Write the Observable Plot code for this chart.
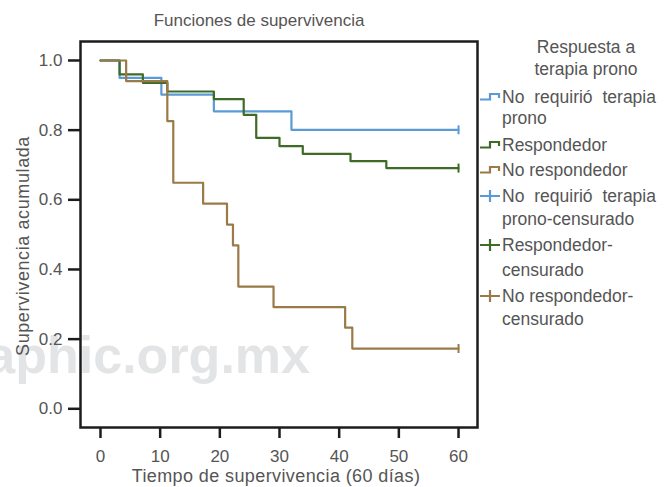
<!DOCTYPE html>
<html><head><meta charset="utf-8">
<script src="https://cdn.jsdelivr.net/npm/d3@7"></script>
<script src="https://cdn.jsdelivr.net/npm/@observablehq/plot@0.6"></script>
<style>
body{margin:0;background:#fff;}
#wrap{position:relative;width:669px;height:487px;overflow:hidden;font-family:"Liberation Sans",Arial,sans-serif;}
#wm,#chart,#over{position:absolute;left:0;top:0;}
#wm{z-index:0}
#chart{z-index:1}
#over{z-index:2;pointer-events:none}
</style></head><body>
<div id="wrap">
<svg id="wm" width="669" height="487"></svg>
<div id="chart"></div>
<svg id="over" width="669" height="487"></svg>
</div>
<script>
// ---- data ----
const seriesNames = ["No requirió terapia prono", "Respondedor", "No respondedor"];
const seriesColors = ["#5b9bd5", "#3e6b26", "#9a7a48"];

const noRequirioTimes = [0, 3.2, 10.2, 19.0, 32.0, 60];
const noRequirioSurv  = [1, 0.950, 0.902, 0.854, 0.801, 0.801];

const respondedorTimes = [0, 3.2, 7.1, 11.2, 19.0, 24.0, 26.1, 30.0, 33.9, 41.9, 47.9, 60];
const respondedorSurv  = [1, 0.960, 0.936, 0.911, 0.889, 0.844, 0.778, 0.754, 0.732, 0.711, 0.691, 0.691];

const noRespondedorTimes = [0, 4.3, 11.2, 12.2, 17.2, 21.2, 22.2, 23.1, 29.0, 41.0, 42.2, 60];
const noRespondedorSurv  = [1, 0.941, 0.826, 0.649, 0.589, 0.529, 0.469, 0.351, 0.292, 0.233, 0.173, 0.173];

const xTicks = [0, 10, 20, 30, 40, 50, 60];
const yTicks = [0.0, 0.2, 0.4, 0.6, 0.8, 1.0];

const titleText = "Funciones de supervivencia";
const xLabel = "Tiempo de supervivencia (60 días)";
const yLabel = "Supervivencia acumulada";
const legendTitle = ["Respuesta a", "terapia prono"];
const legendEntries = [
  {lines: ["No requirió terapia", "prono"], color: 0, kind: "step"},
  {lines: ["Respondedor"], color: 1, kind: "step"},
  {lines: ["No respondedor"], color: 2, kind: "step"},
  {lines: ["No requirió terapia", "prono-censurado"], color: 0, kind: "cens"},
  {lines: ["Respondedor-", "censurado"], color: 1, kind: "cens"},
  {lines: ["No respondedor-", "censurado"], color: 2, kind: "cens"}
];
const watermark = "aphic.org.mx";

// ---- build tables ----
const seriesData = [
  [noRequirioTimes, noRequirioSurv],
  [respondedorTimes, respondedorSurv],
  [noRespondedorTimes, noRespondedorSurv]
];
const rows = [];
const censored = [];
seriesData.forEach(([ts, ss], i) => {
  ts.forEach((t, j) => rows.push({series: seriesNames[i], t, s: ss[j]}));
  censored.push({series: seriesNames[i], t: ts[ts.length - 1], s: ss[ss.length - 1]});
});

const vtick = {draw(ctx, size) { const r = Math.sqrt(size / Math.PI); ctx.moveTo(0, -r); ctx.lineTo(0, r); }};

const font = '"Liberation Sans", Arial, sans-serif';
const chart = Plot.plot({
  width: 669, height: 487,
  marginLeft: 80, marginRight: 192, marginTop: 41, marginBottom: 60,
  style: {fontFamily: font, fontSize: "17px", background: "transparent", color: "#555"},
  x: {domain: [-3.35, 63.18]},
  y: {domain: [-0.0537, 1.0545]},
  color: {domain: seriesNames, range: seriesColors},
  marks: [
    Plot.line(rows, {x: "t", y: "s", z: "series", stroke: "series", curve: "step-after", strokeWidth: 2.2}),
    Plot.dot(censored, {x: "t", y: "s", stroke: "series", symbol: vtick, r: 4.5, strokeWidth: 2}),
    Plot.frame({stroke: "#1c1c1c", strokeWidth: 2.5}),
    Plot.axisX({ticks: xTicks, tickSize: 11, tickPadding: 11, stroke: "#1c1c1c", strokeWidth: 2.5, fill: "#555", fontSize: 17, label: null}),
    Plot.axisY({ticks: yTicks, tickFormat: d3.format(".1f"), tickSize: 12, tickPadding: 6, stroke: "#1c1c1c", strokeWidth: 2.5, fill: "#555", fontSize: 17, label: null})
  ]
});
document.getElementById("chart").appendChild(chart);

// ---- watermark (behind) ----
const wm = d3.select("#wm");
wm.append("text").attr("x", 310).attr("y", 373).attr("text-anchor", "end")
  .attr("font-family", font).attr("font-weight", "bold").attr("font-size", 52)
  .attr("fill", "#e3e4e6").text(watermark);

// ---- overlay texts ----
const ov = d3.select("#over");
const txtColor = "#555";
ov.append("text").attr("x", 259).attr("y", 26).attr("text-anchor", "middle")
  .attr("font-family", font).attr("font-size", 17).attr("fill", txtColor).text(titleText);
ov.append("text").attr("x", 276).attr("y", 482).attr("text-anchor", "middle")
  .attr("font-family", font).attr("font-size", 18).attr("letter-spacing", 0.4).attr("fill", txtColor).text(xLabel);
ov.append("text").attr("transform", "translate(29,246) rotate(-90)").attr("text-anchor", "middle")
  .attr("font-family", font).attr("font-size", 18).attr("letter-spacing", 0.6).attr("fill", txtColor).text(yLabel);

// legend
legendTitle.forEach((l, i) => {
  ov.append("text").attr("x", 586).attr("y", 53 + i * 22).attr("text-anchor", "middle")
    .attr("font-family", font).attr("font-size", 17.5).attr("fill", txtColor).text(l);
});
const entryY = [[97, 118], [145], [170], [196, 219], [245, 270], [296, 319]];
legendEntries.forEach((e, i) => {
  const c = seriesColors[e.color];
  const y0 = entryY[i][0];
  if (e.kind === "step") {
    ov.append("path").attr("d", `M480,${y0 + 2.5}H490V${y0 - 3}H499V${y0 + 1}`)
      .attr("fill", "none").attr("stroke", c).attr("stroke-width", 2.2);
  } else {
    ov.append("path").attr("d", `M480,${y0}H500M490,${y0 - 6}V${y0 + 6}`)
      .attr("fill", "none").attr("stroke", c).attr("stroke-width", 2.2);
  }
  e.lines.forEach((l, j) => {
    const t = ov.append("text").attr("x", 502).attr("y", entryY[i][j] + 6)
      .attr("font-family", font).attr("font-size", 17.5).attr("fill", txtColor).text(l);
    if (l === "No requirió terapia") t.attr("word-spacing", 5);
  });
});
</script>
</body></html>
